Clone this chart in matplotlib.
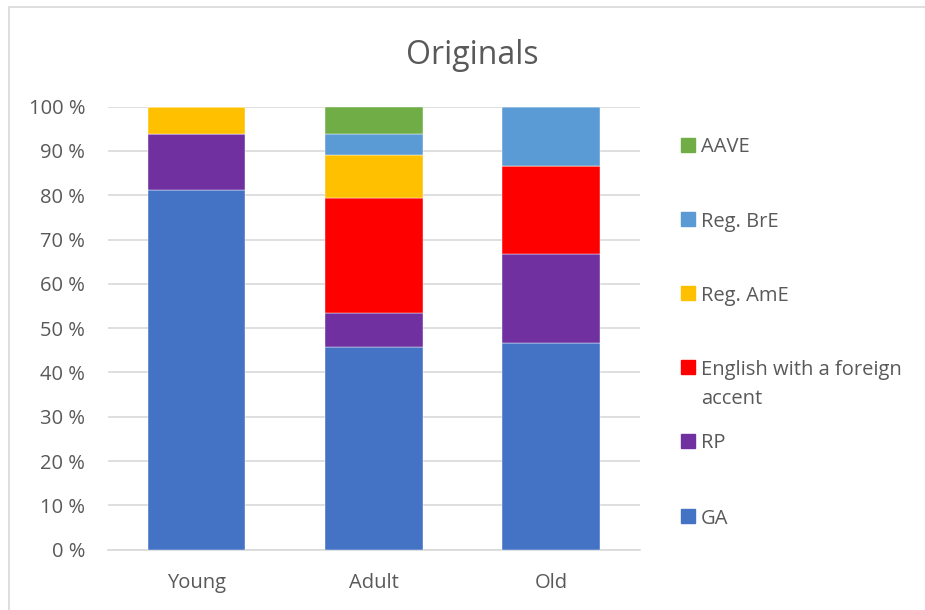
import matplotlib
matplotlib.use("Agg")
import matplotlib.pyplot as plt
from matplotlib.patches import Rectangle
import numpy as np

plt.rcParams['font.family'] = ['Open Sans', 'DejaVu Sans']

# Age groups and share (%) of each accent judged as the speaker's variety
groups = ["Young", "Adult", "Old"]
series = ["GA", "RP", "English with a foreign\naccent", "Reg. AmE", "Reg. BrE", "AAVE"]
ga = [81.25, 45.8, 46.67]
rp = [12.5, 7.6, 20.0]
foreign = [0.0, 26.1, 20.0]
reg_ame = [6.25, 9.5, 0.0]
reg_bre = [0.0, 4.9, 13.33]
aave = [0.0, 6.1, 0.0]
colors = ["#4472C4", "#7030A0", "#FF0000", "#FFC000", "#5B9BD5", "#70AD47"]
yticks = [0, 10, 20, 30, 40, 50, 60, 70, 80, 90, 100]

values = [ga, rp, foreign, reg_ame, reg_bre, aave]
text_color = "#595959"
grid_color = "#D9D9D9"
fs = 14.5

fig = plt.figure(figsize=(9.25, 6.1), dpi=100)
ax = fig.add_axes([0.1168, 0.0989, 0.5746, 0.7262])

x = np.arange(len(groups))
bottom = np.zeros(len(groups))
for vals, col in zip(values, colors):
    ax.bar(x, vals, width=0.55, bottom=bottom, color=col, edgecolor="white",
           linewidth=0.3, zorder=3)
    bottom += np.array(vals)

ax.set_xlim(-0.5, len(groups) - 0.5)
ax.set_ylim(0, 100)
ax.set_yticks(yticks)
ax.set_yticklabels([f"{t} %" for t in yticks])
ax.set_xticks(x)
ax.set_xticklabels(groups)
ax.tick_params(axis="both", length=0, labelsize=fs, colors=text_color)
ax.tick_params(axis="y", pad=16.5)
ax.tick_params(axis="x", pad=17)
ax.yaxis.grid(True, color=grid_color, linewidth=1.2, zorder=0)
for side in ["top", "right", "left"]:
    ax.spines[side].set_visible(False)
ax.spines["bottom"].set_color(grid_color)
ax.spines["bottom"].set_linewidth(1.2)

fig.text(0.511, 0.909, "Originals", ha="center", va="center",
         fontsize=23, color=text_color)

# Legend drawn in figure pixel coordinates, top entry first
W, H = 925, 610
legend_y = [145, 219, 293, 367, 441, 516]
for lab, col, yy in zip(series[::-1], colors[::-1], legend_y):
    fig.patches.append(Rectangle((681 / W, 1 - (yy + 7) / H), 14 / W, 14 / H,
                                 transform=fig.transFigure, color=col))
    lines = lab.split("\n")
    for i, line in enumerate(lines):
        fig.text(701 / W, 1 - (yy + 29 * i) / H, line, ha="left",
                 va="center_baseline", fontsize=fs, color=text_color)

# Outer chart border
fig.patches.append(Rectangle((9 / W, -0.1), 1.2, 1 - 7 / H + 0.1,
                             transform=fig.transFigure, fill=False,
                             edgecolor=grid_color, linewidth=1.2))

fig.savefig("out.png", dpi=100)
